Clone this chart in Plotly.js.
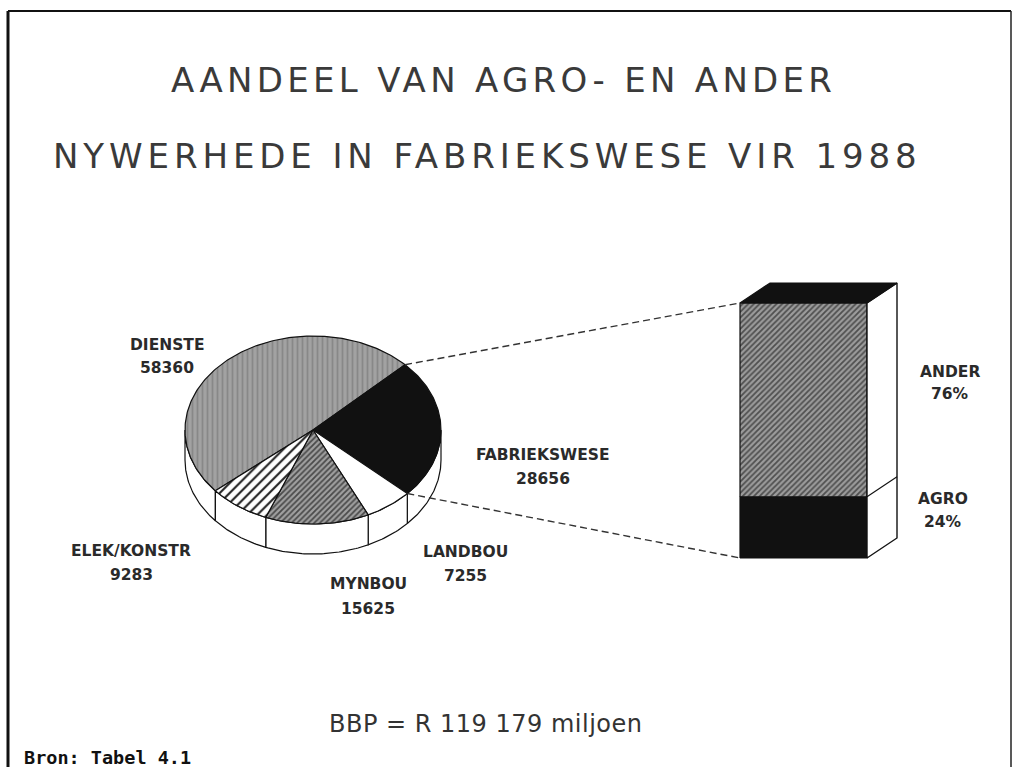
<!DOCTYPE html>
<html>
<head>
<meta charset="utf-8">
<script src="https://cdn.plot.ly/plotly-3.0.1.min.js"></script>
<style>
  html, body { margin: 0; padding: 0; background: #ffffff; }
  #chart { width: 1015px; height: 767px; }
</style>
</head>
<body>
<div id="chart"></div>
<script>
// ---------------- DATA ----------------
const titleLine1 = 'AANDEEL VAN AGRO- EN ANDER';
const titleLine2 = 'NYWERHEDE IN FABRIEKSWESE VIR 1988';
const categories = ['DIENSTE', 'FABRIEKSWESE', 'LANDBOU', 'MYNBOU', 'ELEK/KONSTR'];
const values = [58360, 28656, 7255, 15625, 9283];
const barCategories = ['AGRO', 'ANDER'];
const barPercents = [24, 76];
const totalText = 'BBP = R 119 179 miljoen';
const sourceText = 'Bron: Tabel 4.1';

// ---------------- LAYOUT CONSTANTS (pixel space) ----------------
const W = 1015, H = 767;
const CX = 313, CY = 430, RA = 128, RB = 94, DEPTH = 30, START = 220.3;
const BX0 = 740, BX1 = 867, BY = 558, BH = 255, BDX = 30, BDY = -20;
const zoomSlice = 1; // FABRIEKSWESE is expanded into the bar

const labelPos = [
  {x: 167, y1: 345, y2: 368},
  {x: 543, y1: 455, y2: 479},
  {x: 465, y1: 552, y2: 576},
  {x: 368, y1: 584, y2: 609},
  {x: 131, y1: 551, y2: 575}
];
const barLabelPos = [
  {x: 943, y1: 499, y2: 522},
  {x: 950, y1: 372, y2: 394}
];

const sliceStyles = [
  {fill: '#9e9e9e', pattern: {shape: '|', bgcolor: '#a2a2a2', fgcolor: '#888888', size: 5, solidity: 0.35}},
  {fill: '#111111', pattern: null},
  {fill: '#ffffff', pattern: null},
  {fill: '#8a8a8a', pattern: {shape: '/', bgcolor: '#a0a0a0', fgcolor: '#4a4a4a', size: 4, solidity: 0.45}},
  {fill: '#ffffff', pattern: {shape: '/', bgcolor: '#ffffff', fgcolor: '#222222', size: 7, solidity: 0.3}}
];
const barStyles = [
  {fill: '#111111', pattern: null},
  {fill: '#8a8a8a', pattern: {shape: '/', bgcolor: '#9c9c9c', fgcolor: '#4f4f4f', size: 4, solidity: 0.45}}
];

// ---------------- GEOMETRY ----------------
const rad = d => d * Math.PI / 180;
function pt(theta, dy) {
  return [CX + RA * Math.cos(rad(theta)), CY - RB * Math.sin(rad(theta)) + (dy || 0)];
}
function arc(from, to, dy) {
  const n = Math.max(2, Math.ceil(Math.abs(to - from) / 1));
  const xs = [], ys = [];
  for (let i = 0; i <= n; i++) {
    const t = from + (to - from) * i / n;
    const p = pt(t, dy);
    xs.push(p[0]); ys.push(p[1]);
  }
  return [xs, ys];
}
function poly(xs, ys, style, lw) {
  const tr = {
    type: 'scatter', mode: 'lines', x: xs, y: ys, fill: 'toself',
    fillcolor: style.fill, line: {color: '#111111', width: lw || 1.2},
    hoverinfo: 'skip', showlegend: false
  };
  if (style.pattern) tr.fillpattern = style.pattern;
  return tr;
}

const total = values.reduce((a, b) => a + b, 0);
const angles = [];
let cum = 0;
values.forEach(v => {
  const t0 = START - 360 * cum / total;
  cum += v;
  const t1 = START - 360 * cum / total;
  angles.push([t0, t1]);
});

const traces = [];
// side walls (front half)
const front = [[-180, 0], [180, 360]];
angles.forEach(([t0, t1]) => {
  front.forEach(([f0, f1]) => {
    const lo = Math.max(t1, f0), hi = Math.min(t0, f1);
    if (lo < hi) {
      const top = arc(hi, lo, 0);
      const bot = arc(lo, hi, DEPTH);
      const xs = top[0].concat(bot[0]); xs.push(xs[0]);
      const ys = top[1].concat(bot[1]); ys.push(ys[0]);
      traces.push(poly(xs, ys, {fill: '#ffffff', pattern: null}, 1.2));
    }
  });
});
// top faces
angles.forEach(([t0, t1], i) => {
  const a = arc(t0, t1, 0);
  const xs = [CX].concat(a[0]).concat([CX]);
  const ys = [CY].concat(a[1]).concat([CY]);
  traces.push(poly(xs, ys, sliceStyles[i], 1.2));
});

// stacked 3D bar
let bcum = 0;
const barTotal = barPercents.reduce((a, b) => a + b, 0);
const divs = [];
barPercents.forEach((p, i) => {
  const yA = BY - BH * bcum / barTotal;
  bcum += p;
  const yB = BY - BH * bcum / barTotal;
  divs.push(yB);
  traces.push(poly([BX0, BX1, BX1, BX0, BX0], [yA, yA, yB, yB, yA], barStyles[i], 1.2));
});
const yTop = BY - BH;
// side face
traces.push(poly([BX1, BX1 + BDX, BX1 + BDX, BX1, BX1], [BY, BY + BDY, yTop + BDY, yTop, BY], {fill: '#ffffff', pattern: null}, 1.4));
// top face
traces.push(poly([BX0, BX1, BX1 + BDX, BX0 + BDX, BX0], [yTop, yTop, yTop + BDY, yTop + BDY, yTop], {fill: '#111111', pattern: null}, 1.2));
// divider lines on side
divs.slice(0, -1).forEach(yd => {
  traces.push({type: 'scatter', mode: 'lines', x: [BX1, BX1 + BDX], y: [yd, yd + BDY],
    line: {color: '#111111', width: 1.2}, hoverinfo: 'skip', showlegend: false});
});

// connector dashed lines
const [zt0, zt1] = angles[zoomSlice];
const pA = pt(zt0, 0), pB = pt(zt1, 0);
traces.push({type: 'scatter', mode: 'lines', x: [pA[0], BX0], y: [pA[1], yTop],
  line: {color: '#333333', width: 1.4, dash: '7px,4px'}, hoverinfo: 'skip', showlegend: false});
traces.push({type: 'scatter', mode: 'lines', x: [pB[0], BX0], y: [pB[1], BY],
  line: {color: '#333333', width: 1.4, dash: '7px,4px'}, hoverinfo: 'skip', showlegend: false});

// ---------------- ANNOTATIONS ----------------
const lblFont = {family: 'DejaVu Sans', size: 15.5, color: '#2a2a2a', weight: 'bold'};
const annotations = [];
function ann(x, y, text, font, anchor) {
  annotations.push({x: x, y: y, xref: 'x', yref: 'y', text: text, showarrow: false,
    xanchor: anchor || 'center', yanchor: 'middle', font: font});
}
const titleFont = {family: 'DejaVu Sans', size: 34, color: '#3a3a3a'};
ann(503, 80, '<span style="letter-spacing:4.3px">' + titleLine1 + '</span>', titleFont);
ann(487, 156, '<span style="letter-spacing:4.9px">' + titleLine2 + '</span>', titleFont);

categories.forEach((c, i) => {
  ann(labelPos[i].x, labelPos[i].y1, c, lblFont);
  ann(labelPos[i].x, labelPos[i].y2, String(values[i]), lblFont);
});
barCategories.forEach((c, i) => {
  ann(barLabelPos[i].x, barLabelPos[i].y1, c, lblFont);
  ann(barLabelPos[i].x, barLabelPos[i].y2, barPercents[i] + '%', lblFont);
});
ann(486, 724, '<span style="letter-spacing:0.5px">' + totalText + '</span>', {family: 'DejaVu Sans', size: 24, color: '#333333'});
ann(22, 757, sourceText, {family: 'DejaVu Sans Mono', size: 18.5, color: '#111111', weight: 'bold'}, 'left');

// frame
const shapes = [
  {type: 'line', xref: 'x', yref: 'y', x0: 8, x1: 8, y0: 11, y1: 767, line: {color: '#111111', width: 3}},
  {type: 'line', xref: 'x', yref: 'y', x0: 8, x1: 1011, y0: 11, y1: 11, line: {color: '#111111', width: 2}},
  {type: 'line', xref: 'x', yref: 'y', x0: 1011, x1: 1011, y0: 11, y1: 767, line: {color: '#222222', width: 1.5}}
];

const layout = {
  width: W, height: H,
  margin: {l: 0, r: 0, t: 0, b: 0, pad: 0},
  paper_bgcolor: '#ffffff', plot_bgcolor: '#ffffff',
  xaxis: {range: [0, W], visible: false, fixedrange: true},
  yaxis: {range: [H, 0], visible: false, fixedrange: true},
  showlegend: false,
  annotations: annotations,
  shapes: shapes
};

Plotly.newPlot('chart', traces, layout, {displayModeBar: false, staticPlot: true});
</script>
</body>
</html>
